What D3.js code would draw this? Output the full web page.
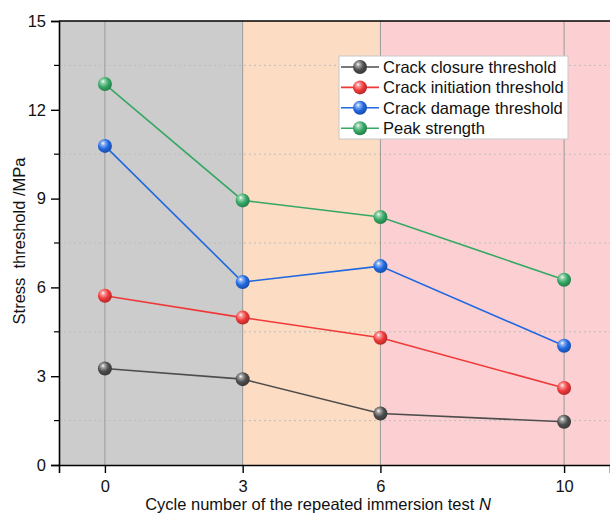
<!DOCTYPE html>
<html>
<head>
<meta charset="utf-8">
<script src="https://cdn.jsdelivr.net/npm/d3@7"></script>
<style>
  html, body { margin: 0; padding: 0; background: #fff; }
  svg { display: block; font-family: "Liberation Sans", Arial, sans-serif; }
</style>
</head>
<body>
<svg id="chart" width="610" height="513"></svg>
<script>
// Cycle numbers of the repeated immersion test
const cycles = [0, 3, 6, 10];
// Stress thresholds (MPa) for each cycle number
const closure = [3.26, 2.90, 1.74, 1.46];
const initiation = [5.72, 4.98, 4.30, 2.60];
const damage = [10.78, 6.18, 6.72, 4.03];
const peak = [12.87, 8.94, 8.38, 6.26];
const seriesNames = ["Crack closure threshold", "Crack initiation threshold", "Crack damage threshold", "Peak strength"];
const seriesColors = ["#4d4d4d", "#f03838", "#2068e0", "#35a864"];
// Background stages along the cycle axis
const bandStarts = [-1, 3, 6];
const bandEnds = [3, 6, 11];
const bandColors = ["#cccccc", "#fddcc4", "#fcd0d2"];
const yTicks = [0, 3, 6, 9, 12, 15];
const yMinor = [1.5, 4.5, 7.5, 10.5, 13.5];

const FONT = 16.5;
const svg = d3.select("#chart");
const plotL = 59, plotR = 610, plotT = 21, plotB = 465;

const x = d3.scaleLinear().domain([-1, 11]).range([plotL, plotR]);
const y = d3.scaleLinear().domain([0, 15]).range([plotB, plotT]);

// Stage bands
svg.append("g").selectAll("rect").data(bandStarts).join("rect")
  .attr("x", (d) => x(d))
  .attr("y", plotT)
  .attr("width", (d, i) => x(bandEnds[i]) - x(d))
  .attr("height", plotB - plotT)
  .attr("fill", (d, i) => bandColors[i]);

// Dotted minor grid
svg.append("g").selectAll("line").data(yMinor).join("line")
  .attr("x1", plotL).attr("x2", plotR)
  .attr("y1", (d) => y(d)).attr("y2", (d) => y(d))
  .attr("stroke", "#bdbdbd").attr("stroke-width", 1)
  .attr("stroke-dasharray", "2,3");

// Vertical grid at cycle ticks
svg.append("g").selectAll("line").data(cycles).join("line")
  .attr("x1", (d) => x(d)).attr("x2", (d) => x(d))
  .attr("y1", plotT).attr("y2", plotB)
  .attr("stroke", "#9a9a9a").attr("stroke-width", 1);

// Sphere gradients
const defs = svg.append("defs");
seriesColors.forEach((c, i) => {
  const g = defs.append("radialGradient").attr("id", "ball" + i)
    .attr("cx", "40%").attr("cy", "38%").attr("r", "65%")
    .attr("fx", "36%").attr("fy", "30%");
  g.append("stop").attr("offset", "0%").attr("stop-color", "#ffffff");
  g.append("stop").attr("offset", "20%").attr("stop-color", d3.interpolateRgb("#ffffff", c)(0.5));
  g.append("stop").attr("offset", "58%").attr("stop-color", c);
  g.append("stop").attr("offset", "100%").attr("stop-color", d3.color(c).darker(0.9));
});

const allSeries = [closure, initiation, damage, peak];
const line = d3.line().x((d, i) => x(cycles[i])).y((d) => y(d));

allSeries.forEach((vals, si) => {
  svg.append("path").datum(vals)
    .attr("d", line)
    .attr("fill", "none")
    .attr("stroke", seriesColors[si])
    .attr("stroke-width", 1.6);
});
allSeries.forEach((vals, si) => {
  svg.append("g").selectAll("circle").data(vals).join("circle")
    .attr("cx", (d, i) => x(cycles[i]))
    .attr("cy", (d) => y(d))
    .attr("r", 7)
    .attr("fill", `url(#ball${si})`);
});

// Axes
const yAxis = d3.axisLeft(y).tickValues(yTicks).tickSize(8).tickPadding(5);
const gy = svg.append("g").attr("transform", `translate(${plotL},0)`).call(yAxis);
gy.selectAll("text").attr("font-size", FONT).attr("fill", "#111");
gy.select(".domain").attr("stroke-width", 1.6);
gy.selectAll(".tick line").attr("stroke-width", 1.4);
svg.append("g").selectAll("line").data(yMinor).join("line")
  .attr("x1", plotL - 5).attr("x2", plotL)
  .attr("y1", (d) => y(d)).attr("y2", (d) => y(d))
  .attr("stroke", "#000").attr("stroke-width", 1.2);

const xAxis = d3.axisBottom(x).tickValues(cycles).tickSize(8).tickPadding(7);
const gx = svg.append("g").attr("transform", `translate(0,${plotB})`).call(xAxis);
gx.selectAll("text").attr("font-size", FONT).attr("fill", "#111");
gx.select(".domain").attr("stroke-width", 1.6);
gx.selectAll(".tick line").attr("stroke-width", 1.4);

// Top frame line
svg.append("line").attr("x1", plotL).attr("x2", plotR).attr("y1", plotT).attr("y2", plotT)
  .attr("stroke", "#000").attr("stroke-width", 1.6);

// Axis titles
svg.append("text")
  .attr("transform", `translate(25,${(plotT + plotB) / 2 - 2}) rotate(-90)`)
  .attr("text-anchor", "middle")
  .attr("font-size", FONT).attr("fill", "#111")
  .attr("xml:space", "preserve")
  .text("Stress  threshold /MPa");

const xt = svg.append("text")
  .attr("x", 318).attr("y", 510)
  .attr("text-anchor", "middle")
  .attr("font-size", FONT).attr("fill", "#111");
xt.append("tspan").text("Cycle number of the repeated immersion test ");
xt.append("tspan").attr("font-style", "italic").text("N");

// Legend
const lg = svg.append("g").attr("transform", "translate(339,56)");
lg.append("rect").attr("width", 229).attr("height", 83)
  .attr("fill", "#fff").attr("stroke", "#c8c8c8").attr("stroke-width", 1);
seriesNames.forEach((name, i) => {
  const yy = 11 + i * 20.4;
  lg.append("line").attr("x1", 2).attr("x2", 40).attr("y1", yy).attr("y2", yy)
    .attr("stroke", seriesColors[i]).attr("stroke-width", 1.6);
  lg.append("circle").attr("cx", 21).attr("cy", yy).attr("r", 7)
    .attr("fill", `url(#ball${i})`);
  lg.append("text").attr("x", 44).attr("y", yy).attr("dy", "0.35em")
    .attr("font-size", FONT).attr("fill", "#111").text(name);
});
</script>
</body>
</html>
